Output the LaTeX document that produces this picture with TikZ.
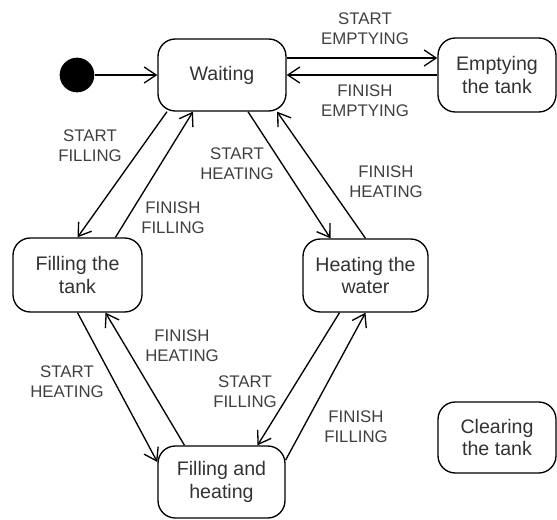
\documentclass[tikz,border=0pt]{standalone}
\usepackage{fontspec}
\setmainfont{Liberation Sans}
\usetikzlibrary{arrows.meta,calc}

\begin{document}
\begin{tikzpicture}[x=0.75pt,y=0.75pt,line width=1pt,
  state node/.style={draw,rounded corners=13pt,align=center,text=black!80,font=\fontsize{14.7}{17}\selectfont,inner sep=2pt}]
\tikzstyle{trans edge} = [draw,-{Straight Barb[length=9pt,width=12pt]}]
\tikzstyle{trans label} = [align=center,text=black!75,font=\fontsize{12.6}{15}\selectfont]

\useasboundingbox (0,0) rectangle (557,519);

% States
\node[circle,fill=black,minimum size=26pt,inner sep=0pt] (init) at (77,444) {};
\node[state node,minimum width=96pt,minimum height=54pt] (wait) at (222,444) {Waiting};
\node[state node,minimum width=88.5pt,minimum height=55.5pt] (empty) at (497,444) {Emptying\\the tank};
\node[state node,minimum width=96.75pt,minimum height=55.5pt] (fill) at (77.5,244) {Filling the\\tank};
\node[state node,minimum width=93.75pt,minimum height=54.75pt] (heat) at (365.5,243.5) {Heating the\\water};
\node[state node,minimum width=95.25pt,minimum height=54pt] (both) at (221.5,37) {Filling and\\heating};
\node[state node,minimum width=88.5pt,minimum height=53.25pt] (clear) at (497,81.5) {Clearing\\the tank};

% Transitions
\draw[trans edge] (init) -- (wait);
\draw[trans edge] ($(wait.east)+(0,17)$) -- ($(empty.west)+(0,17)$);
\draw[trans edge] (empty.west) -- (wait.east);
\draw[trans edge] ($(wait.south)+(-55,0)$) -- (fill.north);
\draw[trans edge] ($(fill.north)+(38,0)$) -- ($(wait.south)+(-29,0)$);
\draw[trans edge] ($(wait.south)+(26,0)$) -- ($(heat.north)+(-35,0)$);
\draw[trans edge] (heat.north) -- ($(wait.south)+(55,0)$);
\draw[trans edge] (fill.south) -- ($(both.west)+(0,20)$);
\draw[trans edge] ($(both.north)+(-37,0)$) -- ($(fill.south)+(28,0)$);
\draw[trans edge] ($(heat.south)+(-26,0)$) -- ($(both.north)+(36,0)$);
\draw[trans edge] ($(both.east)+(0,22)$) -- (heat.south);

% Labels
\node[trans label] (startempty) at (365,490) {START\\EMPTYING};
\node[trans label] (finishempty) at (365,418) {FINISH\\EMPTYING};
\node[trans label] (startfill1) at (90,373) {START\\FILLING};
\node[trans label] (finishfill1) at (173,301) {FINISH\\FILLING};
\node[trans label] (startheat1) at (237,355) {START\\HEATING};
\node[trans label] (finishheat1) at (386,337) {FINISH\\HEATING};
\node[trans label] (finishheat2) at (182,173) {FINISH\\HEATING};
\node[trans label] (startheat2) at (67,137) {START\\HEATING};
\node[trans label] (startfill2) at (245,127) {START\\FILLING};
\node[trans label] (finishfill2) at (356,92) {FINISH\\FILLING};

\end{tikzpicture}
\end{document}
